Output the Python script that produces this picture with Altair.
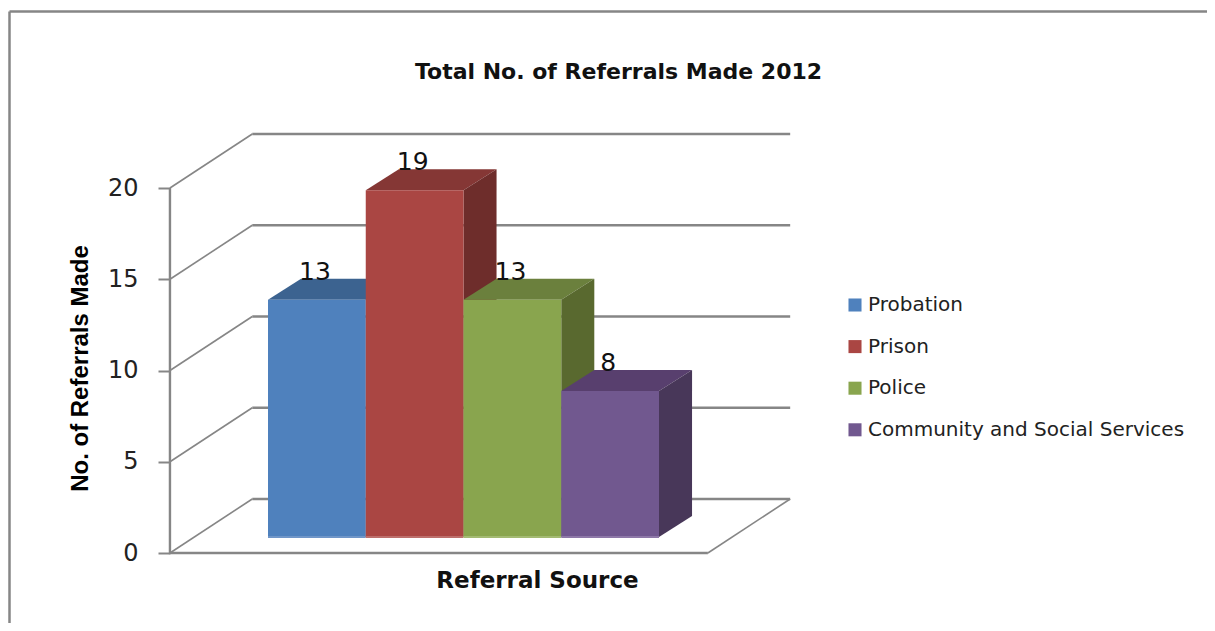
import altair as alt
import pandas as pd

categories = ["Probation", "Prison", "Police", "Community and Social Services"]
values = [13, 19, 13, 8]
front_colors = ["#4F81BD", "#AA4643", "#89A54E", "#71588F"]
top_colors = ["#3C6390", "#853735", "#6B803D", "#583F6E"]
side_colors = ["#335378", "#6E2D2B", "#59692F", "#483759"]
edge_colors = ["#7096C8", "#BD6F6C", "#A3BA72", "#8E78A8"]
y_ticks = [0, 5, 10, 15, 20]

W, H = 1199, 615
PX_X, PX_Y = 97.75, 18.25      # pixels per bar / per referral
x_dom = [-260 / PX_X, (W - 260) / PX_X]
y_dom = [(545 - H) / PX_Y, 545 / PX_Y]
X = alt.Scale(domain=x_dom, nice=False, zero=False)
Y = alt.Scale(domain=y_dom, nice=False, zero=False)

# oblique projection of the 3-D box
WALL_DX, WALL_DY = 0.842, 2.96
FLOOR_X0, FLOOR_X1 = -1.003, 4.50
BAR_LIFT = 0.877
BAR_DX, BAR_DY = 0.338, 1.15

ink = "#868686"
GRID = ink

X_AXIS = alt.Axis(
    values=[],
    labels=False,
    ticks=False,
    domain=False,
    grid=False,
    title="Referral Source",
    titleFont="DejaVu Sans",
    titleFontWeight="bold",
    titleFontSize=23,
    titleColor="#111111",
    titleX=529,
    titleY=-36,
    titleBaseline="alphabetic",
)
Y_AXIS = alt.Axis(
    values=y_ticks,
    offset=-162,
    domain=False,
    grid=False,
    tickSize=12,
    tickColor=ink,
    tickWidth=2,
    labelFont="DejaVu Sans",
    labelFontSize=24,
    labelColor="#222222",
    labelPadding=20,
    title="No. of Referrals Made",
    titleFont="Liberation Sans",
    titleFontWeight="bold",
    titleFontSize=24,
    titleColor="#000000",
    titleX=-83,
    titleY=360,
    titleBaseline="alphabetic",
)


def xenc(f="x", **k):
    return alt.X(f"{f}:Q", scale=X, axis=X_AXIS, **k)


def yenc(f="y", **k):
    return alt.Y(f"{f}:Q", scale=Y, axis=Y_AXIS, **k)


layers = []

# left wall grid lines (thin) and back wall grid lines (heavier)
wall_rows = []
back_rows = []
for t in y_ticks:
    wall_rows += [
        {"t": t, "x": FLOOR_X0, "y": t},
        {"t": t, "x": FLOOR_X0 + WALL_DX, "y": t + WALL_DY},
    ]
    back_rows += [
        {"t": t, "x": FLOOR_X0 + WALL_DX, "y": t + WALL_DY},
        {"t": t, "x": FLOOR_X1 + WALL_DX, "y": t + WALL_DY},
    ]
layers.append(
    alt.Chart(pd.DataFrame(wall_rows))
    .mark_line(color=GRID, strokeWidth=1.6)
    .encode(x=xenc(), y=yenc(), detail="t:N")
)
layers.append(
    alt.Chart(pd.DataFrame(back_rows))
    .mark_line(color=GRID, strokeWidth=2.5)
    .encode(x=xenc(), y=yenc(), detail="t:N")
)

# front axis and floor edges
axis_rows = [
    {"x": FLOOR_X0, "y": 20, "o": 0},
    {"x": FLOOR_X0, "y": 0, "o": 1},
    {"x": FLOOR_X1, "y": 0, "o": 2},
]
layers.append(
    alt.Chart(pd.DataFrame(axis_rows))
    .mark_line(color=GRID, strokeWidth=2.4)
    .encode(x=xenc(), y=yenc(), order="o:Q")
)
floor_rows = [
    {"x": FLOOR_X1, "y": 0},
    {"x": FLOOR_X1 + WALL_DX, "y": WALL_DY},
]
layers.append(
    alt.Chart(pd.DataFrame(floor_rows))
    .mark_line(color=GRID, strokeWidth=1.6)
    .encode(x=xenc(), y=yenc())
)

# bars, each drawn top, side, front so nearer faces overlap correctly
for i, (cat, v) in enumerate(zip(categories, values)):
    x0, x1 = float(i), float(i + 1)
    top, base = v + BAR_LIFT, BAR_LIFT
    top_df = pd.DataFrame(
        [
            {"y": top, "x": x0, "x2": x1},
            {"y": top + BAR_DY, "x": x0 + BAR_DX, "x2": x1 + BAR_DX},
        ]
    )
    layers.append(
        alt.Chart(top_df)
        .mark_area(orient="horizontal", color=top_colors[i])
        .encode(y=yenc(), x=xenc(), x2="x2:Q")
    )
    side_df = pd.DataFrame(
        [
            {"x": x1, "y": top, "y2": base},
            {"x": x1 + BAR_DX, "y": top + BAR_DY, "y2": base + BAR_DY},
        ]
    )
    layers.append(
        alt.Chart(side_df)
        .mark_area(color=side_colors[i])
        .encode(x=xenc(), y=yenc(), y2="y2:Q")
    )
    front_df = pd.DataFrame(
        [{"cat": cat, "x": x0, "x2": x1, "y": top, "y2": base}]
    )
    layers.append(
        alt.Chart(front_df)
        .mark_rect()
        .encode(
            x=xenc(),
            x2="x2:Q",
            y=yenc(),
            y2="y2:Q",
            color=alt.Color(
                "cat:N",
                scale=alt.Scale(domain=categories, range=front_colors),
                sort=categories,
                legend=alt.Legend(
                    title=None,
                    orient="none",
                    legendX=837,
                    legendY=287,
                    symbolType="square",
                    symbolSize=170,
                    symbolStrokeWidth=0,
                    labelFont="DejaVu Sans",
                    labelFontSize=20,
                    labelColor="#222222",
                    labelOffset=3,
                    labelLimit=340,
                    rowPadding=21.6,
                ),
            ),
        )
    )
    edge_df = pd.DataFrame([{"x": x0, "x2": x1, "y": base}])
    layers.append(
        alt.Chart(edge_df)
        .mark_rule(color=edge_colors[i], strokeWidth=2)
        .encode(x=xenc(), x2="x2:Q", y=yenc())
    )

# value labels
label_df = pd.DataFrame(
    {
        "x": [i + 0.5 - 0.02 for i in range(len(values))],
        "y": [v + BAR_LIFT for v in values],
        "text": [str(v) for v in values],
    }
)
layers.append(
    alt.Chart(label_df)
    .mark_text(
        font="DejaVu Sans",
        fontSize=25,
        color="#111111",
        baseline="alphabetic",
        dy=-20,
    )
    .encode(x=xenc(), y=yenc(), text="text:N")
)

# outer frame of the chart area
layers.append(
    alt.Chart(pd.DataFrame({"a": [0]}))
    .mark_rule(color=ink, strokeWidth=2.5)
    .encode(x=alt.value(1.5), y=alt.value(3.5), y2=alt.value(H))
)
layers.append(
    alt.Chart(pd.DataFrame({"a": [0]}))
    .mark_rule(color=ink, strokeWidth=2.5)
    .encode(x=alt.value(1.5), x2=alt.value(W), y=alt.value(3.5))
)

chart = (
    alt.layer(*layers)
    .properties(
        width=W,
        height=H,
        padding=0,
        autosize=alt.AutoSizeParams(type="none"),
        background="white",
        title=alt.TitleParams(
            text="Total No. of Referrals Made 2012",
            font="DejaVu Sans",
            fontSize=22,
            fontWeight="bold",
            color="#111111",
            anchor="middle",
            frame="group",
            dx=11,
            offset=-76,
        ),
    )
    .configure_view(stroke=None)
)

chart.save("out.html", embed_options={"renderer": "svg", "actions": False})
